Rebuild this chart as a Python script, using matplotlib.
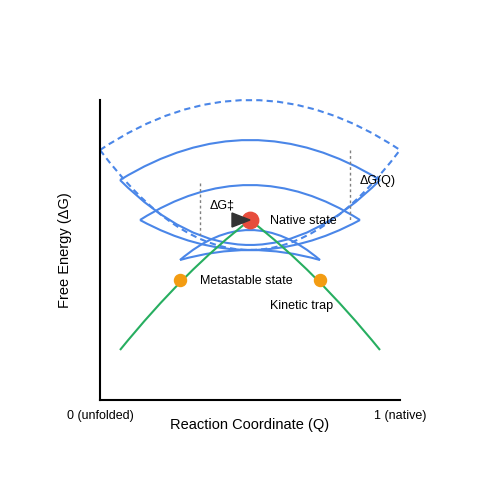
import matplotlib.pyplot as plt
from matplotlib.path import Path
from matplotlib.patches import PathPatch, Polygon

plt.rcParams['font.family'] = ['Liberation Sans', 'DejaVu Sans']

# quadratic curves: (start, control, end) in diagram pixel units
dashed_curves = [((100, 150), (250, 50), (400, 150)),
                 ((100, 150), (250, 350), (400, 150))]
solid_curves = [((120, 180), (250, 100), (380, 180)),
                ((120, 180), (250, 310), (380, 180)),
                ((140, 220), (250, 150), (360, 220)),
                ((140, 220), (250, 280), (360, 220)),
                ((180, 260), (250, 200), (320, 260)),
                ((180, 260), (250, 240), (320, 260))]
green_curves = [((120, 350), (185, 270), (250, 220)),
                ((250, 220), (315, 270), (380, 350))]
orange_pts = [(180, 280), (320, 280)]
red_pt = (250, 220)
dotted_lines = [(200, 183, 235), (350, 150, 220)]

blue = '#4a86e8'
fig = plt.figure(figsize=(5, 5), dpi=100)
ax = fig.add_axes([0, 0, 1, 1])
ax.set_xlim(0, 500)
ax.set_ylim(500, 0)
ax.axis('off')

def quad(p, **kw):
    path = Path([p[0], p[1], p[2]], [Path.MOVETO, Path.CURVE3, Path.CURVE3])
    ax.add_patch(PathPatch(path, fill=False, **kw))

for c in dashed_curves:
    quad(c, edgecolor=blue, lw=1.5, linestyle=(0, (3, 2)))
for c in solid_curves:
    quad(c, edgecolor=blue, lw=1.5)
for c in green_curves:
    quad(c, edgecolor='#27ae60', lw=1.5)

ax.plot([100, 100], [100, 400], color='black', lw=1.5)
ax.plot([100, 400], [400, 400], color='black', lw=1.5)
for x, y0, y1 in dotted_lines:
    ax.plot([x, x], [y0, y1], color='gray', lw=1, linestyle=(0, (2, 2)))

for x, y in orange_pts:
    ax.scatter(x, y, s=75, color='#f39c12', zorder=5)
ax.scatter(*red_pt, s=140, color='#e74c3c', zorder=5)
ax.add_patch(Polygon([(232, 213), (232, 227), (250, 220)], color='#333333', zorder=6))

fs = 9
ax.text(210, 206, 'ΔG‡', fontsize=fs, va='center')
ax.text(360, 181, 'ΔG(Q)', fontsize=fs, va='center')
ax.text(270, 221, 'Native state', fontsize=fs, va='center')
ax.text(200, 281, 'Metastable state', fontsize=fs, va='center')
ax.text(270, 306, 'Kinetic trap', fontsize=fs, va='center')
ax.text(100, 416, '0 (unfolded)', fontsize=fs, ha='center', va='center')
ax.text(400, 416, '1 (native)', fontsize=fs, ha='center', va='center')
ax.text(250, 425, 'Reaction Coordinate (Q)', fontsize=10.5, ha='center', va='center')
ax.text(65, 250, 'Free Energy (ΔG)', fontsize=10.5, ha='center', va='center', rotation=90)

fig.savefig('out.png')
